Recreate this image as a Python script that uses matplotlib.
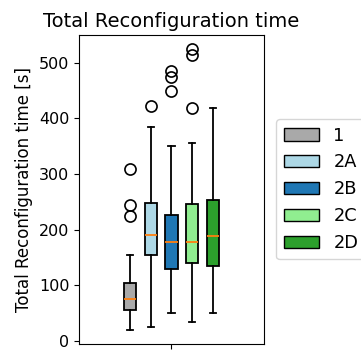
import matplotlib
matplotlib.use("Agg")
import matplotlib.pyplot as plt
from matplotlib.patches import Patch

# box summaries (seconds)
labels = ["1", "2A", "2B", "2C", "2D"]
whislo = [20, 26, 50, 35, 50]
q1 = [55, 155, 130, 140, 134]
med = [75, 190, 178, 178, 188]
q3 = [105, 248, 226, 247, 253]
whishi = [155, 384, 350, 355, 419]
fliers = [[225, 245, 310], [423], [449, 474, 485], [419, 514, 525], []]
colors = ["darkgray", "lightblue", "tab:blue", "lightgreen", "tab:green"]
offsets = [-0.4, -0.2, 0.0, 0.2, 0.4]

stats = []
for i in range(len(labels)):
    stats.append(dict(label=labels[i], whislo=whislo[i], q1=q1[i], med=med[i],
                      q3=q3[i], whishi=whishi[i], fliers=fliers[i]))

fig = plt.figure(figsize=(3.61, 3.52), dpi=100)
ax = fig.add_axes([0.219, 0.023, 0.512, 0.878])

bp = ax.bxp(stats, positions=[1 + o for o in offsets], widths=0.12,
            patch_artist=True, manage_ticks=False,
            flierprops=dict(markersize=8, markeredgewidth=1.2),
            boxprops=dict(linewidth=1.3), whiskerprops=dict(linewidth=1.3),
            capprops=dict(linewidth=1.3), medianprops=dict(color="tab:orange", linewidth=1.3))
for patch, c in zip(bp["boxes"], colors):
    patch.set_facecolor(c)

ax.set_xlim(0.105, 1.895)
ax.set_xticks([1])
ax.set_xticklabels([""])
ax.tick_params(labelsize=11.5)
ax.set_ylabel("Total Reconfiguration time [s]", fontsize=12)
ax.set_title("Total Reconfiguration time", fontsize=14)

handles = [Patch(facecolor=c, edgecolor="black", label=l) for c, l in zip(colors, labels)]
ax.legend(handles=handles, loc="center left", bbox_to_anchor=(1.02, 0.5), fontsize=12.8)

fig.savefig("out.png", dpi=100)
